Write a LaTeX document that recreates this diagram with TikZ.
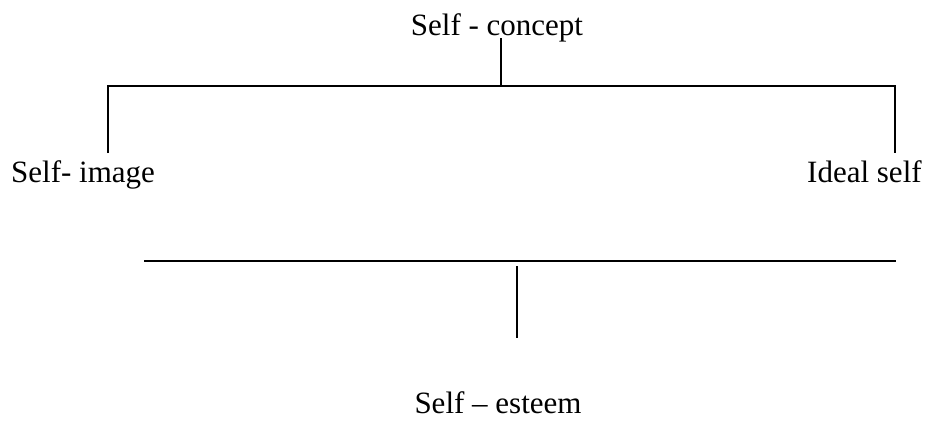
\documentclass[tikz,border=0pt]{standalone}
\usepackage{fontspec}
\setmainfont{Liberation Serif}
\tikzset{
  lbl/.style={inner sep=0pt, font=\fontsize{31}{36}\selectfont},
  bar/.style={line width=1.6pt}
}
\begin{document}
\begin{tikzpicture}[x=1pt, y=-1pt]
    \useasboundingbox (0,0) rectangle (928,421);

    % 文本
    \node[lbl, anchor=base] (concept) at (497,35) {Self - concept};
    \node[lbl, anchor=base west] (image) at (11,182) {Self- image};
    \node[lbl, anchor=base west] (ideal) at (807,182) {Ideal self};
    \node[lbl, anchor=base] (esteem) at (498,413) {Self -- esteem};

    % 上部分支
    \coordinate (topmid) at (501,86);
    \coordinate (topL) at (108,86);
    \coordinate (topR) at (895,86);
    \draw[bar] (topmid |- 0,38) -- (topmid);
    \draw[bar] (topL |- 0,153) -- (topL) -- (topR) -- (topR |- 0,153);

    % 下部横线
    \coordinate (lowL) at (144,261);
    \coordinate (lowR) at (896,261);
    \draw[bar] (lowL) -- (lowR);
    \draw[bar] (517,266) -- (517,338);
\end{tikzpicture}
\end{document}
